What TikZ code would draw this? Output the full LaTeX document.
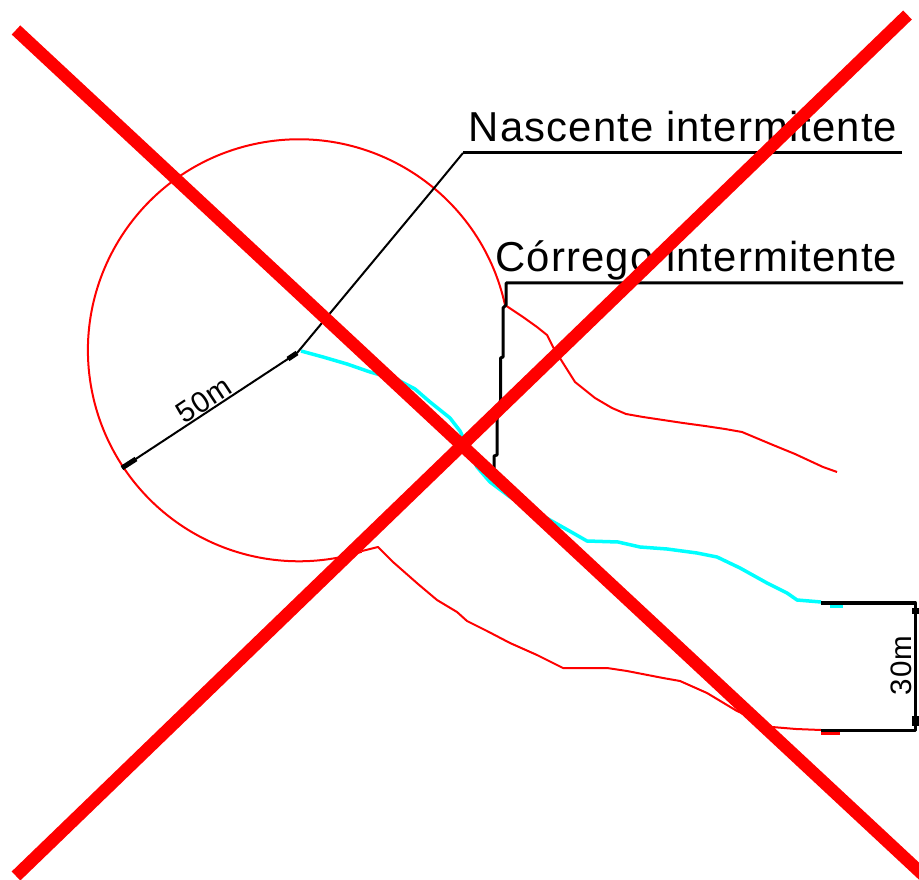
\documentclass[tikz,border=0pt]{standalone}
\usepackage{fontspec}
\newfontfamily\labelfont[LetterSpace=2.7]{Liberation Sans}

\definecolor{crossred}{RGB}{255,0,0}
\definecolor{streamcyan}{RGB}{0,255,255}

\tikzset{
  labeltext/.style={font=\labelfont\fontsize{11.9}{14}\selectfont,inner sep=0pt},
  dimtext/.style={font=\labelfont\fontsize{8.4}{10}\selectfont,inner sep=0pt},
  limit/.style={draw=crossred,line width=0.02cm,line join=round},
  stream/.style={draw=streamcyan,line width=0.035cm,line join=round},
  leader/.style={draw=black,line width=0.03cm,line join=round},
  slant/.style={draw=black,line width=0.02cm,line join=round},
  cross/.style={draw=crossred,line width=0.125cm}
}

\begin{document}
\begin{tikzpicture}[x=0.01cm,y=-0.01cm]

\def\circr{211}

\useasboundingbox (0,0) rectangle (919,880);

% stream
\draw[stream] (301,351) -- (323,357) -- (347,364) -- (370,372) -- (398,380) -- (415,389) -- (430,402) -- (450,418) -- (460,431) -- (477,467) -- (490,482) -- (510,497) -- (550,520) -- (573,533) -- (587,541) -- (618,542) -- (640,547) -- (667,549) -- (697,553) -- (717,557) -- (740,568) -- (767,583) -- (787,593) -- (797,600) -- (821,602);
\draw[stream] (830,606) -- (843,606);

% limits
\draw[limit] (505,305) arc (-12.4:-287.3:{\circr});
\draw[limit] (505,305) -- (523,317) -- (537,327) -- (547,335) -- (553,347) -- (563,363) -- (575,382) -- (595,398) -- (612,408) -- (626,414) -- (643,417) -- (663,420) -- (683,423) -- (705,426) -- (725,429) -- (742,432) -- (773,445) -- (795,454) -- (823,467) -- (837,472);
\draw[limit] (362,551) -- (378,547) -- (393,562) -- (418,584) -- (437,600) -- (457,612) -- (467,621) -- (487,631) -- (510,643) -- (537,655) -- (557,665) -- (563,668) -- (607,668) -- (627,671) -- (663,678) -- (680,681) -- (707,693) -- (727,705) -- (737,711) -- (772,727) -- (796,729) -- (821,730);
\draw[crossred,line width=0.03cm] (821,733) -- (840,733);

% labels
\node[labeltext,anchor=base east] (nascente) at (898,142) {Nascente intermitente};
\node[labeltext,anchor=base east] (corrego) at (898,272) {Córrego intermitente};

\coordinate (nascenteend) at (902,153);
\coordinate (nascentebend) at (463,153);
\coordinate (center) at (297,353);
\coordinate (rim) at (122,468);
\coordinate (corregoend) at (903,283);
\coordinate (corregobend) at (506,283);
\coordinate (streamend) at (821,603);
\coordinate (limitend) at (821,730);
\coordinate (dimtop) at (915.5,603);
\coordinate (dimbottom) at (915.5,730);

\draw[leader] (nascenteend) -- (nascentebend);
\draw[slant] (nascentebend) -- (435,187) -- (center);
\draw[slant] (center) -- (rim);
\node[dimtext,rotate=33.5] (radius) at (204,400) {50m};
\draw[line width=0.05cm] (center) -- (288,359);
\draw[line width=0.05cm] (rim) -- (136,459);

\draw[leader] (corregoend) -- (corregobend) -- (506,305) -- (503,308) -- (503,357) -- (500.5,358) -- (500.5,400) -- (497,420) -- (497,455) -- (494,456) -- (494,470);

\draw[leader] (streamend) -- (dimtop) -- (dimbottom) -- (limitend);
\draw[line width=0.08cm] (915.5,608) -- (915.5,614);
\draw[line width=0.08cm] (915.5,716) -- (915.5,726);
\node[dimtext,rotate=90] (distance) at (901,665.5) {30m};

% crossed out
\draw[cross] (16,30) -- (935,886);
\draw[cross] (907.5,15) -- (16,876);

\end{tikzpicture}
\end{document}
